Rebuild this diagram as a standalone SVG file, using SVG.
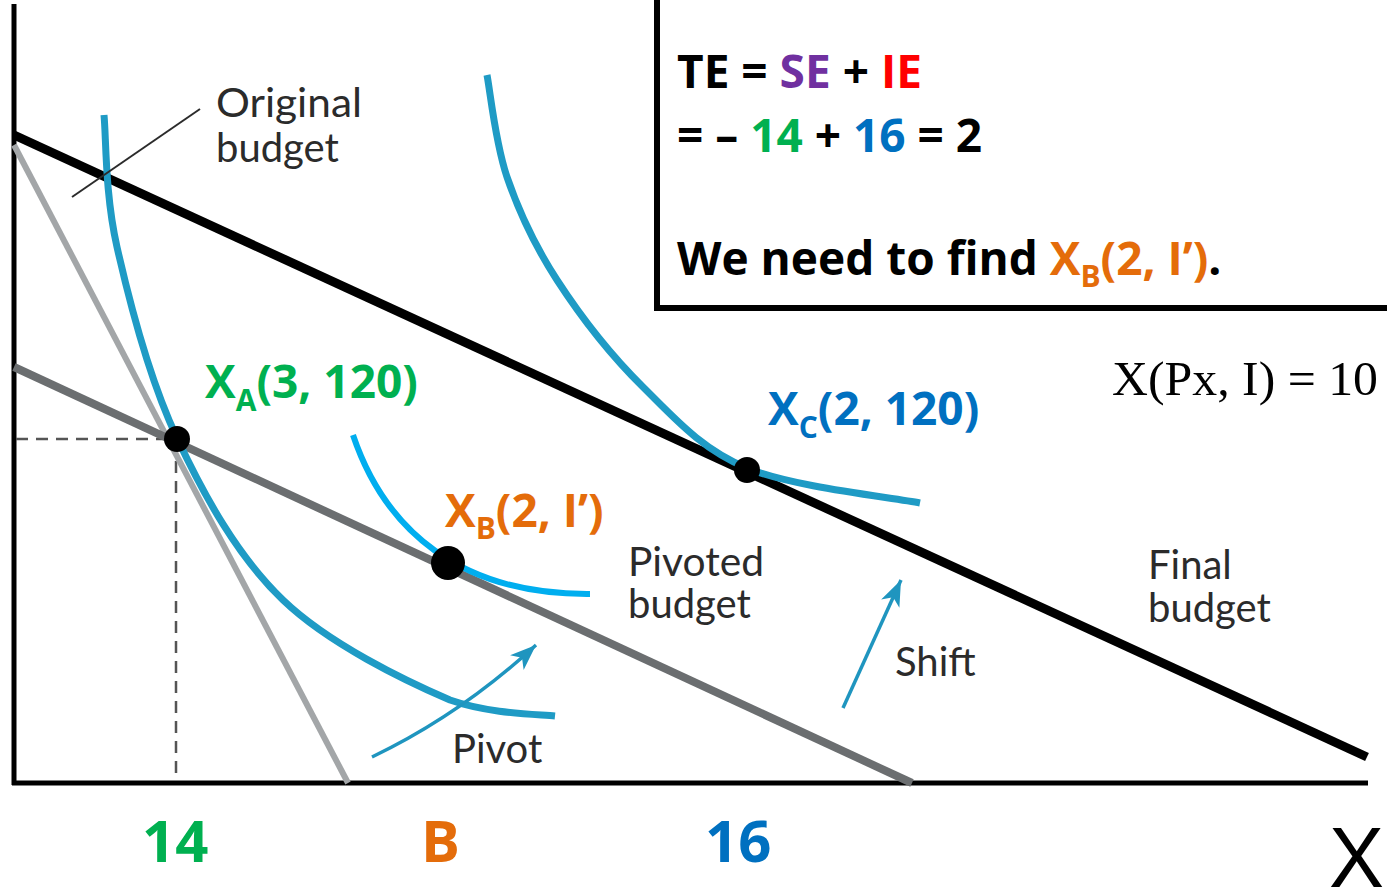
<svg xmlns="http://www.w3.org/2000/svg" width="1387" height="894" viewBox="0 0 1387 894">
<style>
.lbl{font-family:"Open Sans","Liberation Sans",sans-serif;font-weight:700}
.gray{font-family:Lato,"Open Sans",sans-serif;font-size:40px;fill:#2b2b2b}
.ic{fill:none;stroke:#1f9bc5;stroke-width:7}
</style>
<defs>
<marker id="ah" markerUnits="userSpaceOnUse" markerWidth="28" markerHeight="22" refX="26" refY="11" orient="auto">
<path d="M0,1 L26,11 L0,21 L7,11 z" fill="#1f95bf"/>
</marker>
</defs>
<rect width="1387" height="894" fill="#fff"/>
<g id="axes" stroke="#000" stroke-width="5" fill="none">
<line x1="14" y1="4" x2="14" y2="785"/>
<line x1="12" y1="783" x2="1368" y2="783"/>
</g>
<g id="guides" stroke="#555" stroke-width="2.5" stroke-dasharray="12 8" fill="none">
<line x1="16" y1="439" x2="176" y2="439"/>
<line x1="176" y1="441" x2="176" y2="781"/>
</g>
<g id="budgets" fill="none">
<line id="steep-budget" x1="14" y1="145" x2="348" y2="783" stroke="#a3a6a8" stroke-width="6"/>
<line id="pivoted-budget" x1="14" y1="367" x2="912" y2="783" stroke="#6b6e70" stroke-width="8"/>
<line id="final-budget" x1="14" y1="135" x2="1367" y2="757" stroke="#000" stroke-width="9"/>
</g>
<g id="curves">
<path id="ic-low" class="ic" d="M104,115 C106.2,137 104.8,193.2 117,247 C129.2,300.8 149.3,379.2 177,438 C204.7,496.8 237.5,556.3 283,600 C328.5,643.7 404.7,680.5 450,700 C490,714 537.5,714.2 555,716"/>
<path id="ic-high" class="ic" d="M487,75 C490.3,92 495.3,142.8 507,177 C518.7,211.2 534.3,245 557,280 C579.7,315 611.3,355.7 643,387 C674.7,418.3 700.8,448.7 747,468 C793.2,487.3 891.2,497.2 920,503"/>
<path id="ic-mid" d="M353,435 C385,530 460,595 590,594" fill="none" stroke="#00aeef" stroke-width="6"/>
</g>
<g id="connectors" fill="none">
<line id="orig-pointer" x1="72" y1="197" x2="200" y2="109" stroke="#2b2b2b" stroke-width="2"/>
<path id="pivot-arrow" d="M372,757 Q460,715 536,645" stroke="#1f95bf" stroke-width="3.5" marker-end="url(#ah)"/>
<line id="shift-arrow" x1="843" y1="708" x2="901" y2="580" stroke="#1f95bf" stroke-width="3.5" marker-end="url(#ah)"/>
</g>
<g id="point-A"><circle cx="177" cy="439" r="13" fill="#000"/>
<text class="lbl" x="205" y="398" font-size="46" fill="#00b050">X<tspan dy="13" font-size="30">A</tspan><tspan dy="-13">(3, 120)</tspan></text></g>
<g id="point-B"><circle cx="448" cy="563" r="17" fill="#000"/>
<text class="lbl" x="445" y="527" font-size="46" fill="#e46c0a">X<tspan dy="12" font-size="30">B</tspan><tspan dy="-12">(2, I’)</tspan></text></g>
<g id="point-C"><circle cx="747" cy="470" r="13" fill="#000"/>
<text class="lbl" x="768" y="425" font-size="46" fill="#0070c0">X<tspan dy="13" font-size="30">C</tspan><tspan dy="-13">(2, 120)</tspan></text></g>
<g id="labels">
<text class="gray" x="216" y="117" textLength="146" lengthAdjust="spacingAndGlyphs">Original</text>
<text class="gray" x="216" y="162">budget</text>
<text class="gray" x="628" y="576" textLength="136" lengthAdjust="spacingAndGlyphs">Pivoted</text>
<text class="gray" x="628" y="618">budget</text>
<text class="gray" x="452" y="763">Pivot</text>
<text class="gray" x="895" y="676">Shift</text>
<text class="gray" x="1148" y="579">Final</text>
<text class="gray" x="1148" y="622">budget</text>
<text x="1112" y="395" font-family="'Liberation Serif',serif" font-size="48" textLength="266" lengthAdjust="spacingAndGlyphs" fill="#000">X(Px, I) = 10</text>
</g>
<g id="box">
<path d="M657,0 V308 H1387" fill="none" stroke="#000" stroke-width="6"/>
<text class="lbl" x="677" y="88" font-size="46" fill="#000">TE = <tspan fill="#7030a0">SE</tspan> + <tspan fill="#ff0000">IE</tspan></text>
<text class="lbl" x="677" y="152" font-size="46" fill="#000">= – <tspan fill="#00b050">14</tspan> + <tspan fill="#0070c0">16</tspan> = 2</text>
<text class="lbl" x="677" y="275" font-size="46" fill="#000">We need to find <tspan fill="#e46c0a">X</tspan><tspan dy="12" font-size="30" fill="#e46c0a">B</tspan><tspan dy="-12" fill="#e46c0a">(2, I’)</tspan>.</text>
</g>
<g id="axis-labels" class="lbl" font-size="58">
<text x="142" y="862" fill="#00b050">14</text>
<text x="421" y="862" fill="#e46c0a">B</text>
<text x="705" y="862" fill="#0070c0">16</text>
<text x="1329" y="887" font-family="'Liberation Sans',sans-serif" font-weight="400" font-size="86" textLength="55" lengthAdjust="spacingAndGlyphs" fill="#000">X</text>
</g>
</svg>
